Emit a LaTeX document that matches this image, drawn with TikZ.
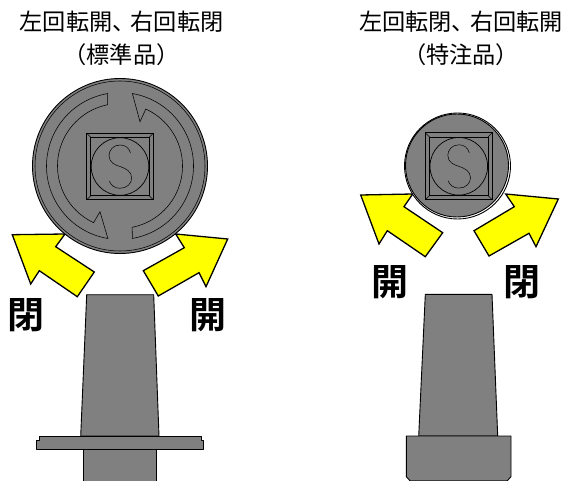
\documentclass[tikz,border=0pt]{standalone}
\usepackage{fontspec}
\newfontfamily\jpfont{Noto Sans CJK JP}
\newfontfamily\jpbold{Noto Sans CJK JP Bold}
\definecolor{partgray}{HTML}{808080}
\definecolor{arrowyellow}{HTML}{FFFF00}
\tikzset{
  part/.style={draw=black,fill=partgray,line width=0.9pt,line join=round},
  thinpart/.style={draw=black,line width=0.55pt},
  openarrow/.style={draw=black,fill=arrowyellow,line width=1.3pt,line join=miter},
  title/.style={font=\jpfont\fontsize{23.2}{33}\selectfont,align=center,inner sep=0pt},
  bigmark/.style={font=\jpbold\fontsize{37}{37}\selectfont,inner sep=0pt},
}
\newcommand{\squarekey}[2]{%
  \begin{scope}[shift={(#1,#2)}]
    \draw[thinpart,line width=1pt] (-33.4,-33.4) rectangle (33.4,33.4);
    \draw[thinpart,line width=0.8pt] (-29.2,-29.2) rectangle (29.2,29.2);
    \draw[thinpart] (-33.4,-33.4) -- (-29.2,-29.2) (33.4,-33.4) -- (29.2,-29.2)
                    (-33.4,33.4) -- (-29.2,29.2) (33.4,33.4) -- (29.2,29.2);
    \draw[thinpart,line width=0.7pt] (0,0) circle (28.8);
    \draw[thinpart,line width=0.5pt] (10.5,-13.5) .. controls (9,-19) and (5,-21.5) .. (0,-21.5)
      .. controls (-7,-21.5) and (-11,-16) .. (-11,-11)
      .. controls (-11,-4) and (-5,-1.5) .. (0,0)
      .. controls (6,2) and (11.7,5) .. (11.7,11.5)
      .. controls (11.7,17) and (7,21.8) .. (0,21.8)
      .. controls (-5,21.8) and (-9,19) .. (-10.7,14.5);
  \end{scope}}
\begin{document}
\begin{tikzpicture}[x=1pt,y=-1pt]
\useasboundingbox (0,0) rectangle (564,481);
\node[title] (t1) at (121.5,38) {左回転開、\kern-5pt右回転閉\\（標準品）};
\node[title] (t2) at (461,38) {左回転閉、\kern-5pt右回転開\\（特注品）};
% left arrows
\draw[openarrow] (12.3,234.7) -- (65,234) -- (55.7,246.7) -- (94.3,272) -- (77.3,296.7) -- (39.3,270.7) -- (30.7,284) -- cycle;
\draw[openarrow] (227.7,239) -- (175.7,234) -- (184.3,247.7) -- (143.3,270.7) -- (158.3,296) -- (199,272.7) -- (206,286.7) -- cycle;
% left dial
\draw[part] (120,166) circle (87.5);
\draw[thinpart] (120,166) circle (85);
\begin{scope}[shift={(120,166)}]
  \draw[thinpart] (99.5:73.5) arc[start angle=99.5,end angle=260.3,radius=73.5]
    -- (258.6:62.5) arc[start angle=258.6,end angle=115,radius=62.5]
    -- (-20,45.7) -- cycle;
  \draw[thinpart] (-80.3:73.5) arc[start angle=-80.3,end angle=80.3,radius=73.5]
    -- (78.8:62.5) arc[start angle=78.8,end angle=-65.6,radius=62.5]
    -- (20,-44.3) -- cycle;
\end{scope}
\squarekey{120}{166.5}
% left shaft
\draw[part] (86.7,294.7) -- (153.7,294.7) -- (159,436) -- (80.7,436) -- cycle;
\draw[part] (83,449.3) -- (83,483) -- (156.7,483) -- (156.7,449.3);
\draw[part] (39.3,436) -- (201.3,436) -- (201.3,440.7) -- (203.7,440.7) -- (203.7,449.3) -- (36,449.3) -- (36,440.7) -- (39.3,440.7) -- cycle;
\node[bigmark] (m1) at (25.5,315) {閉};
\node[bigmark] (m2) at (207.5,315) {開};
% right arrows
\draw[openarrow] (360.7,195) -- (412.7,194) -- (404,206.7) -- (442.7,232.7) -- (425.3,256.7) -- (387.3,230.7) -- (379,244) -- cycle;
\draw[openarrow] (558.3,199) -- (505.7,194) -- (514.3,206.7) -- (474,230.7) -- (489,256) -- (529,233.3) -- (536,246.7) -- cycle;
% right dial
\draw[draw=black,fill=white,line width=0.9pt] (457.5,166) circle (53);
\draw[part] (457,165.5) circle (51.5);
\squarekey{458.8}{166.3}
% right shaft
\draw[part] (425.3,294.3) -- (492,294.3) -- (497.7,436) -- (418.7,436) -- cycle;
\draw[part] (406.3,436) -- (511,436) -- (511,476.7) -- (507.3,480.7) -- (410,480.7) -- (406.3,476.7) -- cycle;
\node[bigmark] (m3) at (389.5,282) {開};
\node[bigmark] (m4) at (521.5,282) {閉};
\end{tikzpicture}
\end{document}
